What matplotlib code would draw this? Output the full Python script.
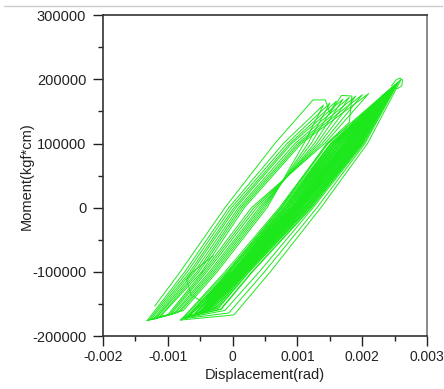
import matplotlib
matplotlib.use("Agg")
import matplotlib.pyplot as plt
from matplotlib.lines import Line2D
from matplotlib.ticker import MultipleLocator

plt.rcParams['font.family'] = ['Liberation Sans', 'DejaVu Sans']

# displacement in 1e-3 rad, moment in 1e3 kgf*cm
# first loading run with the two drops near the top
first_x = [-1.20, -0.81, -0.12, 0.65, 1.24, 1.43, 1.50, 1.68, 1.84, 1.80,
           1.45, 0.74, -0.08, -0.45, -0.70, -0.80]
first_y = [-153, -100, 0, 100, 168, 168, 147, 175, 174, 133,
           100, 0, -100, -150, -168, -174]

# hooked segment low in the left band
hook_x = [-0.30, -0.62, -0.71, -0.64, -0.46, -0.25]
hook_y = [-75, -100, -112, -136, -147, -150]

# left (earlier) band of cycles
left_trough = [(-1.32, -176), (-1.29, -175), (-1.26, -174), (-1.23, -174), (-1.20, -173),
               (-1.17, -171), (-1.14, -171), (-1.12, -170)]
left_up = [(-0.74, -0.06, 0.78), (-0.70, -0.02, 0.84), (-0.66, 0.02, 0.88), (-0.63, 0.05, 0.91),
           (-0.59, 0.09, 0.96), (-0.55, 0.12, 1.00), (-0.52, 0.15, 1.03), (-0.48, 0.18, 1.06)]  # x at -100k, 0, 100k
left_peak = [(1.40, 160), (1.50, 163), (1.60, 166), (1.70, 169), (1.80, 172), (1.90, 174),
             (2.00, 176), (2.10, 178)]
left_down = [(1.10, 0.53, -0.24), (1.16, 0.50, -0.27), (1.21, 0.47, -0.30), (1.26, 0.44, -0.33),
             (1.30, 0.41, -0.36), (1.34, 0.37, -0.40), (1.38, 0.33, -0.43), (1.42, 0.29, -0.46)]  # x at 100k, 0, -100k
left_knee = [(-0.76, -160), (-0.80, -161), (-0.84, -163), (-0.88, -164), (-0.91, -165),
             (-0.95, -166), (-0.98, -167), (-1.01, -168)]

# right (dense) band of cycles
dense_trough = [(-0.80, -175), (-0.77, -173), (-0.73, -172), (-0.70, -170), (-0.67, -169), (-0.61, -168),
                (-0.59, -167), (-0.54, -166), (-0.52, -164), (-0.49, -164), (-0.48, -162), (-0.45, -162),
                (-0.44, -160), (-0.41, -160), (-0.40, -157), (-0.37, -156), (-0.36, -154), (-0.33, -154)]
dense_up = [(-0.12, 0.72, 1.46), (-0.09, 0.75, 1.47), (-0.06, 0.76, 1.51), (-0.05, 0.79, 1.52),
            (-0.01, 0.80, 1.55), (0.00, 0.83, 1.56), (0.03, 0.84, 1.59), (0.04, 0.87, 1.60),
            (0.07, 0.88, 1.63), (0.08, 0.91, 1.64), (0.11, 0.92, 1.67), (0.12, 0.95, 1.68),
            (0.13, 0.96, 1.71), (0.15, 0.99, 1.72), (0.16, 1.00, 1.75), (0.19, 1.03, 1.76),
            (0.20, 1.04, 1.79), (0.22, 1.06, 1.80)]
dense_peak = [(2.60, 200), (2.56, 196), (2.54, 193), (2.52, 192), (2.50, 190), (2.49, 189),
              (2.47, 188), (2.46, 187), (2.45, 186), (2.44, 185), (2.43, 184), (2.41, 183),
              (2.41, 182), (2.40, 181), (2.38, 180), (2.36, 178), (2.35, 177), (2.32, 176)]
dense_down = [(2.08, 1.36, 0.58), (2.04, 1.30, 0.49), (2.02, 1.24, 0.41), (2.00, 1.21, 0.30),
              (1.98, 1.18, 0.25), (1.96, 1.16, 0.22), (1.95, 1.13, 0.20), (1.93, 1.12, 0.18),
              (1.92, 1.10, 0.16), (1.90, 1.07, 0.14), (1.88, 1.06, 0.12), (1.86, 1.04, 0.10),
              (1.84, 1.01, 0.08), (1.82, 1.00, 0.06), (1.80, 0.98, 0.04), (1.78, 0.95, 0.02),
              (1.76, 0.94, 0.00), (1.74, 0.92, -0.02)]
dense_knee = [(0.02, -167), (-0.06, -164), (-0.12, -160), (-0.18, -158), (-0.22, -156), (-0.24, -154),
              (-0.26, -152), (-0.28, -150), (-0.30, -149), (-0.32, -148), (-0.33, -147), (-0.34, -146),
              (-0.35, -145), (-0.36, -144), (-0.37, -143), (-0.38, -142), (-0.39, -141), (-0.40, -140)]

# small rounded loop at the largest peak
cap_x = [2.45, 2.52, 2.58, 2.62, 2.61, 2.55, 2.48]
cap_y = [190, 199, 202, 199, 190, 186, 186]

x_ticks = [-0.002, -0.001, 0, 0.001, 0.002, 0.003]
x_tick_labels = ['-0.002', '-0.001', '0', '0.001', '0.002', '0.003']
y_ticks = [-200000, -100000, 0, 100000, 200000, 300000]
y_tick_labels = ['-200000', '-100000', '0', '100000', '200000', '300000']

GREEN = '#1ce81c'


def loop_path(trough, up, peak, down, knee):
    xs = [trough[0], up[0], up[1], up[2], peak[0], down[0], down[1], down[2], knee[0], trough[0]]
    ys = [trough[1], -100, 0, 100, peak[1], 100, 0, -100, knee[1], trough[1]]
    return [v * 1e-3 for v in xs], [v * 1e3 for v in ys]


fig = plt.figure(figsize=(4.44, 3.89), dpi=100)
ax = fig.add_axes([0.232, 0.136, 0.730, 0.825])

for i in range(len(dense_trough)):
    xs, ys = loop_path(dense_trough[i], dense_up[i], dense_peak[i], dense_down[i], dense_knee[i])
    ax.plot(xs, ys, color=GREEN, lw=0.7 if i < 3 else 1.1)

for i in range(len(left_trough)):
    xs, ys = loop_path(left_trough[i], left_up[i], left_peak[i], left_down[i], left_knee[i])
    ax.plot(xs, ys, color=GREEN, lw=0.7)

ax.plot([v * 1e-3 for v in first_x], [v * 1e3 for v in first_y], color=GREEN, lw=0.7)
ax.plot([v * 1e-3 for v in hook_x], [v * 1e3 for v in hook_y], color=GREEN, lw=0.7)
ax.plot([v * 1e-3 for v in cap_x], [v * 1e3 for v in cap_y], color=GREEN, lw=0.7)

ax.set_xlim(-0.002, 0.003)
ax.set_ylim(-200000, 300000)
ax.set_xticks(x_ticks)
ax.set_xticklabels(x_tick_labels)
ax.set_yticks(y_ticks)
ax.set_yticklabels(y_tick_labels)
ax.xaxis.set_minor_locator(MultipleLocator(0.0005))
ax.yaxis.set_minor_locator(MultipleLocator(50000))
ax.tick_params(which='both', direction='out', top=False, right=False,
               labelsize=10.5, colors='#222222', width=1.0)
ax.tick_params(which='major', length=7)
ax.tick_params(which='minor', length=3.5)
ax.tick_params(axis='x', which='major', pad=3, labelsize=10)
ax.tick_params(axis='y', which='major', pad=5)
for s in ax.spines.values():
    s.set_linewidth(1.2)
    s.set_color('#333333')
ax.spines['right'].set_color('#777777')

ax.set_xlabel('Displacement(rad)', fontsize=10.5, labelpad=3, color='#222222')
ax.set_ylabel('Moment(kgf*cm)', fontsize=10.5, color='#222222')
ax.yaxis.set_label_coords(-0.215, 0.5)

# thin grey rule across the top of the picture
fig.add_artist(Line2D([0.01, 0.995], [0.984, 0.984], color='#cccccc', lw=1.0, transform=fig.transFigure))

fig.savefig('out.png', dpi=100)
